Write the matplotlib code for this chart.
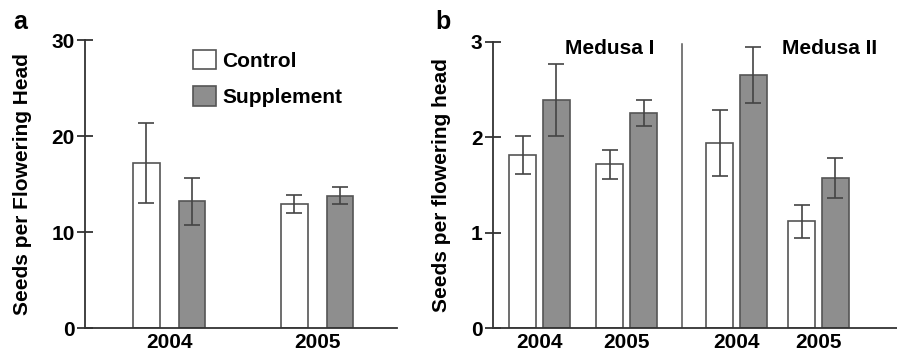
import matplotlib
matplotlib.use("Agg")
import matplotlib.pyplot as plt
from matplotlib.patches import Patch

plt.rcParams['font.family'] = ['Liberation Sans', 'DejaVu Sans']
plt.rcParams['font.weight'] = 'bold'

# ---- Data: panel a ----
years_a = ["2004", "2005"]
control_a = [17.2, 12.9]
control_a_err = [4.2, 0.95]
supp_a = [13.2, 13.8]
supp_a_err = [2.45, 0.9]

# ---- Data: panel b ----
years_b = ["2004", "2005", "2004", "2005"]
sites_b = ["Medusa I", "Medusa II"]
control_b = [1.81, 1.715, 1.935, 1.12]
control_b_err = [0.20, 0.155, 0.345, 0.17]
supp_b = [2.39, 2.25, 2.65, 1.575]
supp_b_err = [0.375, 0.135, 0.295, 0.21]

yticks_a = [0, 10, 20, 30]
yticks_b = [0, 1, 2, 3]

GRAY = '#8e8e8e'
EDGE = '#555555'
ECOL = '#444444'
FS = 15

fig = plt.figure(figsize=(8.97, 3.55), dpi=100)
W, H = 897, 355

def add_ax(x0, x1, y0, y1):
    return fig.add_axes([x0 / W, 1 - y1 / H, (x1 - x0) / W, (y1 - y0) / H])

axa = add_ax(85, 397, 40, 328)
axb = add_ax(493, 897, 41.7, 328.3)

def style(ax):
    for s in ['top', 'right']:
        ax.spines[s].set_visible(False)
    for s in ['left', 'bottom']:
        ax.spines[s].set_color('#333333')
        ax.spines[s].set_linewidth(1.3)
    ax.tick_params(axis='y', direction='inout', length=11, width=1.3,
                   color='#333333', labelsize=FS, pad=2)
    ax.tick_params(axis='x', length=0, labelsize=FS, pad=3.5)

ekw = dict(ecolor=ECOL, elinewidth=1.2, capsize=5.5, capthick=1.2)

# ---- Panel a ----
pos_a = [0, 1]
bw_a = 0.18
off_a = 0.154
xc = [p - off_a for p in pos_a]
xs = [p + off_a for p in pos_a]
axa.bar(xc, control_a, bw_a, color='white', edgecolor=EDGE, linewidth=1.2,
        yerr=control_a_err, error_kw=ekw)
axa.bar(xs, supp_a, bw_a, color=GRAY, edgecolor=EDGE, linewidth=1.2,
        yerr=supp_a_err, error_kw=ekw)
axa.set_xlim(-0.568, 1.54)
axa.set_ylim(0, 30)
axa.set_yticks(yticks_a)
axa.set_xticks(pos_a)
axa.set_xticklabels(years_a)
style(axa)
axa.set_ylabel('Seeds per Flowering Head', fontsize=FS, fontweight='bold', labelpad=14)
handles = [Patch(facecolor='white', edgecolor=EDGE, linewidth=1.2, label='Control'),
           Patch(facecolor=GRAY, edgecolor=EDGE, linewidth=1.2, label='Supplement')]
axa.legend(handles=handles, loc='upper left',
           bbox_to_anchor=((193 - 85) / 312, 1 - (50 - 40) / 288),
           frameon=False, fontsize=FS, handlelength=1.1, handleheight=1.05,
           handletextpad=0.3, labelspacing=0.75, borderpad=0, borderaxespad=0)
fig.text(20 / W, 1 - 22 / H, 'a', fontsize=18, fontweight='bold', ha='center', va='center')

# ---- Panel b ----
pos_b = [0, 1.003, 2.264, 3.207]
bw_b = 0.31
off_b = 0.193
xc = [p - off_b for p in pos_b]
xs = [p + off_b for p in pos_b]
axb.bar(xc, control_b, bw_b, color='white', edgecolor=EDGE, linewidth=1.2,
        yerr=control_b_err, error_kw=ekw)
axb.bar(xs, supp_b, bw_b, color=GRAY, edgecolor=EDGE, linewidth=1.2,
        yerr=supp_b_err, error_kw=ekw)
axb.set_xlim(-0.533, 4.107)
axb.set_ylim(0, 3)
axb.set_yticks(yticks_b)
axb.set_xticks(pos_b)
axb.set_xticklabels(years_b)
style(axb)
axb.set_ylabel('Seeds per flowering head', fontsize=FS, fontweight='bold', labelpad=14)
axb.axvline(1.64, ymin=0, ymax=(328.3 - 44) / 286.6, color='#555555', linewidth=1.1)
axb.text(0.81, 2.93, sites_b[0], fontsize=FS, fontweight='bold', ha='center', va='center')
axb.text(3.33, 2.93, sites_b[1], fontsize=FS, fontweight='bold', ha='center', va='center')
fig.text(443 / W, 1 - 22 / H, 'b', fontsize=18, fontweight='bold', ha='center', va='center')

fig.savefig('out.png', dpi=100)
